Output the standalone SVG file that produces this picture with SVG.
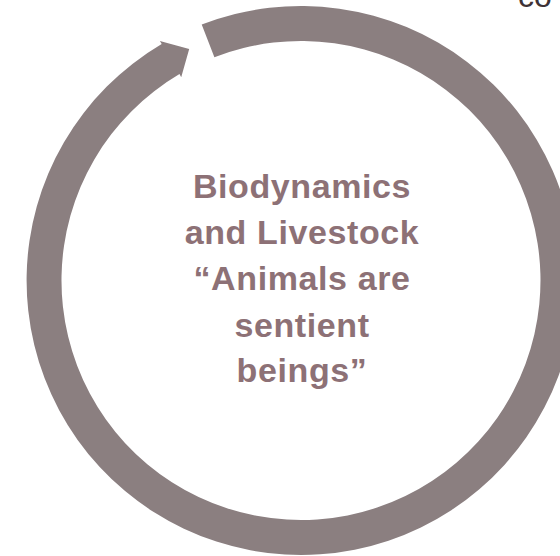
<svg xmlns="http://www.w3.org/2000/svg" width="560" height="556" viewBox="0 0 560 556">
<style>
.ring{fill:#8b7f80;}
.main{font-family:"Liberation Sans",Arial,sans-serif;font-weight:bold;font-size:34px;fill:#8d7176;text-anchor:middle;letter-spacing:0.6px;}
.corner{font-family:"Liberation Sans",Arial,sans-serif;font-size:32px;fill:#3e3236;}
</style>
<rect width="560" height="556" fill="#ffffff"/>
<g id="connectors">
<path class="ring" d="M 201.7 24.6 A 274.5 274.5 0 1 1 161.7 44.0 L 159.9 41.0 L 189.2 49.1 L 181.2 77.2 L 179.5 74.1 A 239.5 239.5 0 1 0 214.4 57.2 Z"/>
</g>
<g id="center-node">
<text class="main" x="302" y="198">Biodynamics</text>
<text class="main" x="302" y="244">and Livestock</text>
<text class="main" x="302" y="290">“Animals are</text>
<text class="main" x="302" y="337">sentient</text>
<text class="main" x="302" y="382">beings”</text>
</g>
<g id="corner-label">
<text class="corner" x="518" y="6.5">co</text>
</g>
</svg>
